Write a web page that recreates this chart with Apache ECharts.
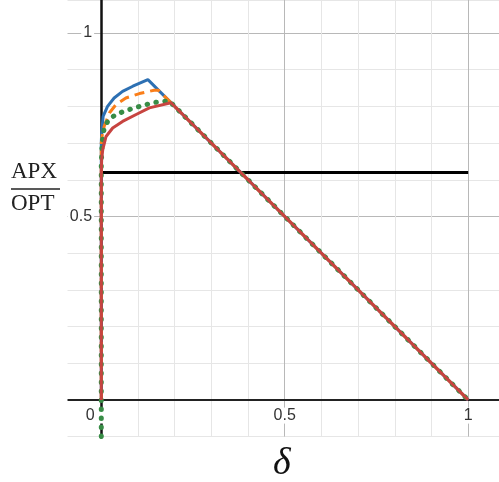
<!DOCTYPE html>
<html>
<head>
    <meta charset="utf-8">
    <title>APX / OPT</title>
    <script src="https://cdn.jsdelivr.net/npm/echarts@6/dist/echarts.min.js"></script>
    <style>
        html, body { margin: 0; padding: 0; background: #fff; }
        #main { width: 499px; height: 482px; }
    </style>
</head>
<body>
<div id="main"></div>
<script type="text/javascript">
// curves, [delta, APX/OPT]
var blueCurve = [[0, 0], [0, 0.70], [0.001, 0.728], [0.005, 0.773], [0.017, 0.80], [0.035, 0.823],
    [0.058, 0.841], [0.086, 0.855], [0.127, 0.873], [1, 0]];
var orangeCurve = [[0, 0], [0, 0.70], [0.003, 0.725], [0.008, 0.746], [0.022, 0.782], [0.04, 0.805],
    [0.067, 0.823], [0.104, 0.835], [0.144, 0.844], [0.156, 0.844], [1, 0]];
var greenCurve = [[0, -0.1], [0, 0.64], [0.002, 0.70], [0.008, 0.741], [0.02, 0.764], [0.04, 0.778],
    [0.063, 0.787], [0.09, 0.796], [0.113, 0.802], [0.14, 0.81], [0.163, 0.813], [0.185, 0.815], [1, 0]];
var redCurve = [[0, 0], [0, 0.62], [0.001, 0.655], [0.004, 0.682], [0.013, 0.718], [0.031, 0.741],
    [0.058, 0.759], [0.095, 0.778], [0.131, 0.796], [0.19, 0.81], [1, 0]];
var flatLine = [[0, 0.62], [1, 0.62]];
var xTickLabels = ['0', '0.5', '1'];
var yTickLabels = ['0.5', '1'];

var minorGrid = '#e6e6e6';
var majorGrid = '#b8b8b8';

function near(v, s) { return Math.abs(v - parseFloat(s)) < 1e-6; }

var myChart = echarts.init(document.getElementById('main'));
var option = {
    animation: false,
    grid: { left: 64.6, right: 0, top: 0, bottom: 45.4, containLabel: false, outerBoundsMode: 'none' },
    xAxis: {
        type: 'value', min: -0.1, max: 1.084, interval: 0.1,
        axisLine: { onZero: true, lineStyle: { color: '#222', width: 2 } },
        axisTick: { show: false },
        axisLabel: {
            // labels sit under the zero line, not under the grid edge
            margin: -29, color: '#333', fontFamily: 'Liberation Sans', fontSize: 16,
            backgroundColor: '#fff', padding: [0, 2],
            formatter: function (v) {
                for (var i = 0; i < xTickLabels.length; i++) {
                    if (near(v, xTickLabels[i])) {
                        return i === 0 ? '{o|' + xTickLabels[i] + '}' : xTickLabels[i];
                    }
                }
                return '';
            },
            rich: { o: { padding: [0, 22, 0, 0], fontSize: 16, fontFamily: 'Liberation Sans', color: '#333' } }
        },
        splitLine: { show: true, lineStyle: { width: 1, color: [minorGrid, majorGrid, minorGrid, minorGrid, minorGrid] } },
        name: 'δ', nameLocation: 'middle', nameGap: 8,
        nameTextStyle: { fontFamily: 'Liberation Serif', fontStyle: 'italic', fontSize: 38, color: '#111', verticalAlign: 'top' }
    },
    yAxis: {
        type: 'value', min: -0.1, max: 1.09, interval: 0.1,
        axisLine: { onZero: true, lineStyle: { color: '#111', width: 2.5 } },
        axisTick: { show: false },
        axisLabel: {
            margin: -29.5, color: '#333', fontFamily: 'Liberation Sans', fontSize: 16,
            backgroundColor: '#fff', padding: [0, 2],
            formatter: function (v) {
                for (var i = 0; i < yTickLabels.length; i++) {
                    if (near(v, yTickLabels[i])) return yTickLabels[i];
                }
                return '';
            }
        },
        splitLine: { show: true, lineStyle: { width: 1, color: [minorGrid, majorGrid, minorGrid, minorGrid, minorGrid] } }
    },
    graphic: [
        // plot area in the picture starts a few px right of the grid edge
        { type: 'rect', left: 0, top: 0, z: 1, shape: { width: 67.5, height: 482 }, style: { fill: '#fff' } },
        { type: 'text', left: 11, top: 160, z: 2, style: { text: 'APX', font: '23px "Liberation Serif"', fill: '#222' } },
        { type: 'line', z: 2, shape: { x1: 11, y1: 189, x2: 60, y2: 189 }, style: { stroke: '#222', lineWidth: 1.3 } },
        { type: 'text', left: 11, top: 192, z: 2, style: { text: 'OPT', font: '23px "Liberation Serif"', fill: '#222' } }
    ],
    series: [
        { type: 'line', data: flatLine, symbol: 'none', lineStyle: { color: '#000', width: 3 } },
        { type: 'line', data: blueCurve, symbol: 'none', lineStyle: { color: '#2d70b3', width: 3 } },
        { type: 'line', data: orangeCurve, symbol: 'none', lineStyle: { color: '#fa7e19', width: 3, type: [10, 6] } },
        { type: 'line', data: greenCurve, symbol: 'none', lineStyle: { color: '#388c46', width: 5, type: [0.5, 8.5], cap: 'round' } },
        { type: 'line', data: redCurve, symbol: 'none', lineStyle: { color: '#c74440', width: 3 } }
    ]
};
myChart.setOption(option);
</script>
</body>
</html>
